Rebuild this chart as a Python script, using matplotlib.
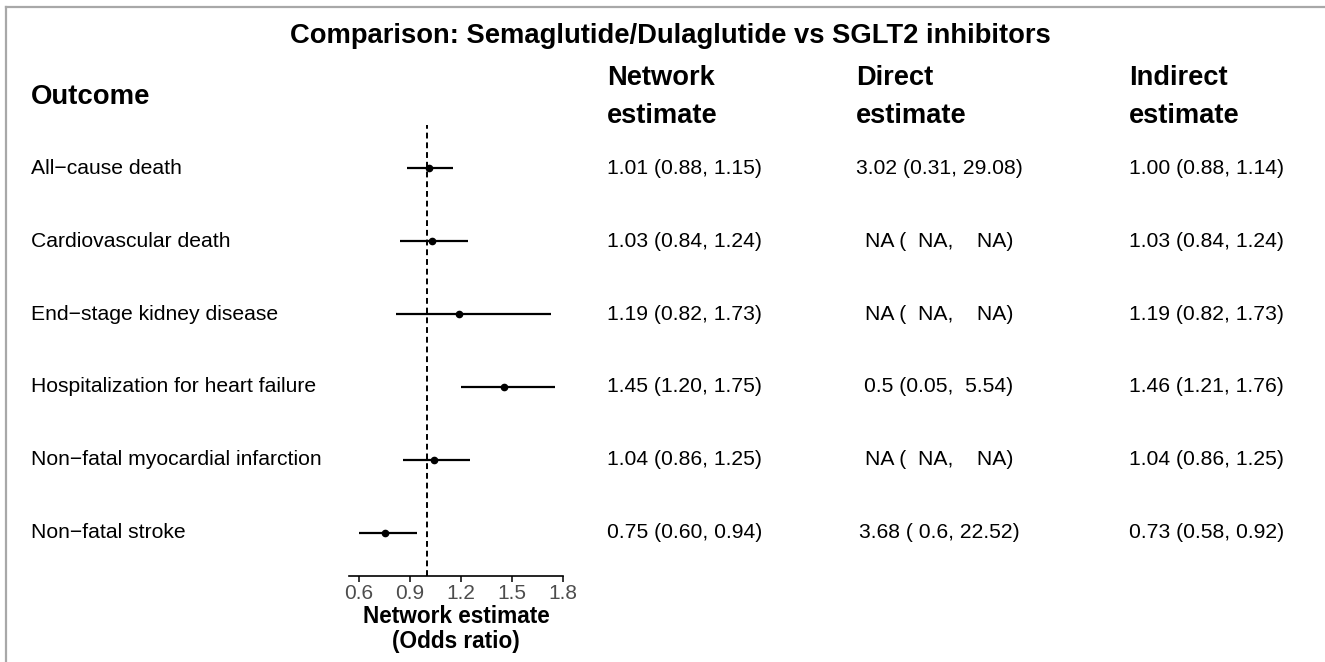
import matplotlib
matplotlib.use("Agg")
import matplotlib.pyplot as plt
from matplotlib.lines import Line2D
from matplotlib.transforms import blended_transform_factory

plt.rcParams['font.family'] = ['Liberation Sans', 'DejaVu Sans']

outcomes = ["All\u2212cause death", "Cardiovascular death", "End\u2212stage kidney disease",
            "Hospitalization for heart failure", "Non\u2212fatal myocardial infarction",
            "Non\u2212fatal stroke"]

# network estimate (odds ratio) with 95% CI
net_est = [1.01, 1.03, 1.19, 1.45, 1.04, 0.75]
net_lo = [0.88, 0.84, 0.82, 1.20, 0.86, 0.60]
net_hi = [1.15, 1.24, 1.73, 1.75, 1.25, 0.94]

direct_txt = ["3.02 (0.31, 29.08)", "NA (  NA,    NA)", "NA (  NA,    NA)",
              "0.5 (0.05,  5.54)", "NA (  NA,    NA)", "3.68 ( 0.6, 22.52)"]
indirect_txt = ["1.00 (0.88, 1.14)", "1.03 (0.84, 1.24)", "1.19 (0.82, 1.73)",
                "1.46 (1.21, 1.76)", "1.04 (0.86, 1.25)", "0.73 (0.58, 0.92)"]

xticks = [0.6, 0.9, 1.2, 1.5, 1.8]

W, H = 1325, 662
fig = plt.figure(figsize=(W / 100, H / 100), dpi=100)

def fx(px):
    return px / W

def fy(py):
    return 1 - py / H

TXT = 15.2

# forest panel
ax = fig.add_axes([fx(349), fy(576), fx(563) - fx(349), fy(125) - fy(576)])
rows = list(range(len(outcomes)))
ax.hlines(rows, net_lo, net_hi, color="black", lw=1.6)
ax.plot(net_est, rows, "o", color="black", ms=4.5)
ax.axvline(1.0, color="black", ls=(0, (3, 2)), lw=1.4)
ax.set_xlim(0.541, 1.8)
ax.set_ylim(len(outcomes) - 0.41, -0.59)
ax.set_xticks(xticks)
ax.set_xticklabels([f"{t:.1f}" for t in xticks])
ax.tick_params(axis="x", length=4, width=1.1, colors="black", labelcolor="#4d4d4d",
               labelsize=15, pad=2)
ax.set_yticks([])
for s in ["top", "right", "left"]:
    ax.spines[s].set_visible(False)
ax.spines["bottom"].set_linewidth(1.2)
ax.set_xlabel("Network estimate\n(Odds ratio)", fontsize=16.3, fontweight="bold",
              linespacing=1.12, labelpad=1)

trans = blended_transform_factory(fig.transFigure, ax.transData)
for i, name in enumerate(outcomes):
    ax.text(fx(31), i, name, transform=trans, ha="left", va="center", fontsize=TXT)
    ax.text(fx(607), i, f"{net_est[i]:.2f} ({net_lo[i]:.2f}, {net_hi[i]:.2f})",
            transform=trans, ha="left", va="center", fontsize=TXT)
    ax.text(fx(939), i, direct_txt[i], transform=trans, ha="center", va="center",
            fontsize=TXT)
    ax.text(fx(1129), i, indirect_txt[i], transform=trans, ha="left", va="center",
            fontsize=TXT)

# headers
fig.text(fx(670), fy(36), "Comparison: Semaglutide/Dulaglutide vs SGLT2 inhibitors",
         ha="center", va="center", fontsize=19.75, fontweight="bold")
fig.text(fx(31), fy(97), "Outcome", ha="left", va="center", fontsize=19.8,
         fontweight="bold")
for x, lab in [(607, "Network\nestimate"), (856, "Direct\nestimate"),
               (1129, "Indirect\nestimate")]:
    fig.text(fx(x), fy(97), lab, ha="left", va="center", fontsize=19.6,
             fontweight="bold", linespacing=1.62)

# frame on top and left edges
fig.add_artist(Line2D([fx(6), 1], [fy(6.5), fy(6.5)], transform=fig.transFigure,
                      color="#a8a8a8", lw=1.6))
fig.add_artist(Line2D([fx(6), fx(6)], [fy(6.5), 0], transform=fig.transFigure,
                      color="#a8a8a8", lw=1.6))

fig.savefig("out.png", dpi=100, facecolor="white")
